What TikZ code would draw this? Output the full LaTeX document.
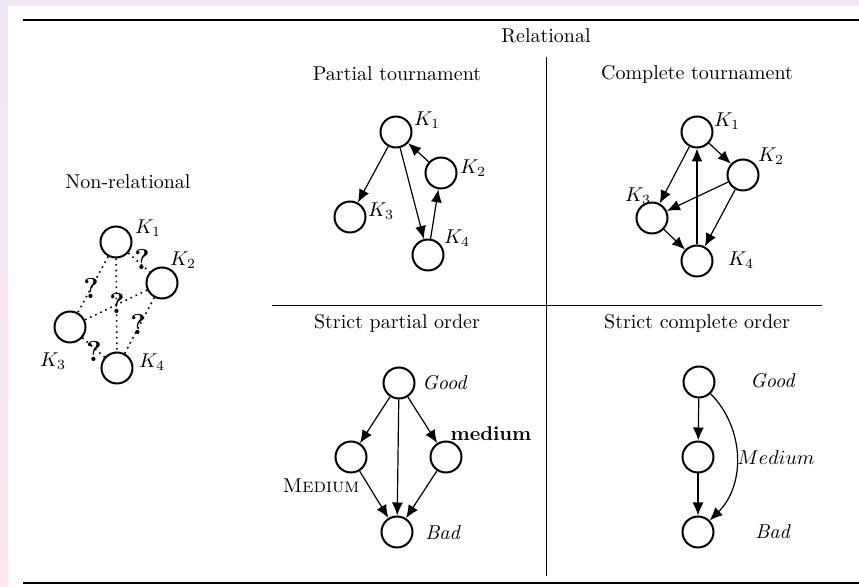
\documentclass[tikz,border=0pt]{standalone}
\usetikzlibrary{arrows.meta}
\definecolor{bgtop}{HTML}{EFE7F5}
\definecolor{bgbot}{HTML}{FDE6EC}
\begin{document}
\begin{tikzpicture}[x=0.5pt,y=-0.5pt,
  vtx/.style={circle,draw,line width=1pt,minimum size=15.5pt,inner sep=0pt},
  arr/.style={-{Latex[length=6.5pt,width=5.5pt]},line width=0.6pt},
  dots/.style={line width=0.8pt,dash pattern=on 0.8pt off 2pt},
  qm/.style={font=\Large\bfseries,inner sep=0pt},
  lbl/.style={inner sep=0pt},
  ttl/.style={inner sep=0pt}]
\useasboundingbox (0,0) rectangle (859,587);
\fill[bgtop] (0,0) rectangle (859,6);
\shade[top color=bgtop,bottom color=bgbot] (0,6) rectangle (8,587);
\fill[white] (8,6) rectangle (859,587);
% rules
\draw[line width=1.3pt] (23,20) -- (859,20);
\draw[line width=1.3pt] (23,583) -- (859,583);
\draw[line width=0.4pt] (546,57) -- (546,576);
\draw[line width=0.4pt] (272,305) -- (822,305);
% titles
\node[ttl] (tr) at (546,36) {Relational};
\node[ttl] (tn) at (128,182) {Non-relational};
\node[ttl] (tpt) at (397,74) {Partial tournament};
\node[ttl] (tct) at (697,74) {Complete tournament};
\node[ttl] (tpo) at (397,323) {Strict partial order};
\node[ttl] (tco) at (697,323) {Strict complete order};
% Non-relational
\node[vtx] (n1) at (116,242) {};
\node[vtx] (n2) at (162,283) {};
\node[vtx] (n3) at (70,327) {};
\node[vtx] (n4) at (117,368) {};
\node[lbl] at (148,228) {$K_1$};
\node[lbl] at (183,260) {$K_2$};
\node[lbl] at (53,361) {$K_3$};
\node[lbl] at (152,362) {$K_4$};
\draw[dots] (n1) -- (n4);
\draw[dots] (n1) -- (n3);
\draw[dots] (n1) -- (n2);
\draw[dots] (n2) -- (n3);
\draw[dots] (n2) -- (n4);
\draw[dots] (n3) -- (n4);
\node[qm] (q1) at (142,259) {?};
\node[qm] (q2) at (91,288) {?};
\node[qm] (q3) at (117,303) {?};
\node[qm] (q4) at (138,324) {?};
\node[qm] (q5) at (94,351) {?};
% Partial tournament
\node[vtx] (p1) at (396,132) {};
\node[vtx] (p2) at (441,173) {};
\node[vtx] (p3) at (350,217) {};
\node[vtx] (p4) at (428,255) {};
\node[lbl] at (427,120) {$K_1$};
\node[lbl] at (473,168) {$K_2$};
\node[lbl] at (381,211) {$K_3$};
\node[lbl] at (457,238) {$K_4$};
\draw[arr] (p1) -- (p3);
\draw[arr] (p1) -- (p4);
\draw[arr] (p2) -- (p1);
\draw[arr] (p4) -- (p2);
% Complete tournament
\node[vtx] (c1) at (697,132) {};
\node[vtx] (c2) at (743,175) {};
\node[vtx] (c3) at (652,218) {};
\node[vtx] (c4) at (697,261) {};
\node[lbl] at (727,121) {$K_1$};
\node[lbl] at (771,156) {$K_2$};
\node[lbl] at (638,196) {$K_3$};
\node[lbl] at (741,260) {$K_4$};
\draw[arr] (c1) -- (c2);
\draw[arr] (c1) -- (c3);
\draw[arr] (c2) -- (c3);
\draw[arr] (c2) -- (c4);
\draw[arr] (c3) -- (c4);
\draw[arr] (c4) -- (c1);
% Strict partial order
\node[vtx] (sg) at (399,383) {};
\node[vtx] (sl) at (351,457) {};
\node[vtx] (sr) at (446,457) {};
\node[vtx] (sb) at (397,532) {};
\node[lbl] at (445,383) {\textit{Good}};
\node[lbl] at (491,434) {\textbf{medium}};
\node[lbl] at (321,486) {\textsc{Medium}};
\node[lbl] at (443,533) {\textit{Bad}};
\draw[arr] (sg) -- (sl);
\draw[arr] (sg) -- (sb);
\draw[arr] (sg) -- (sr);
\draw[arr] (sl) -- (sb);
\draw[arr] (sr) -- (sb);
% Strict complete order
\node[vtx] (tg) at (699,382) {};
\node[vtx] (tm) at (698,457) {};
\node[vtx] (tb) at (698,532) {};
\node[lbl] at (773,381) {\textit{Good}};
\node[lbl] at (776,458) {$Medium$};
\node[lbl] at (773,532) {\textit{Bad}};
\draw[arr] (tg) -- (tm);
\draw[arr] (tm) -- (tb);
\draw[arr] (tg) to[bend left=45] (tb);
\end{tikzpicture}
\end{document}
